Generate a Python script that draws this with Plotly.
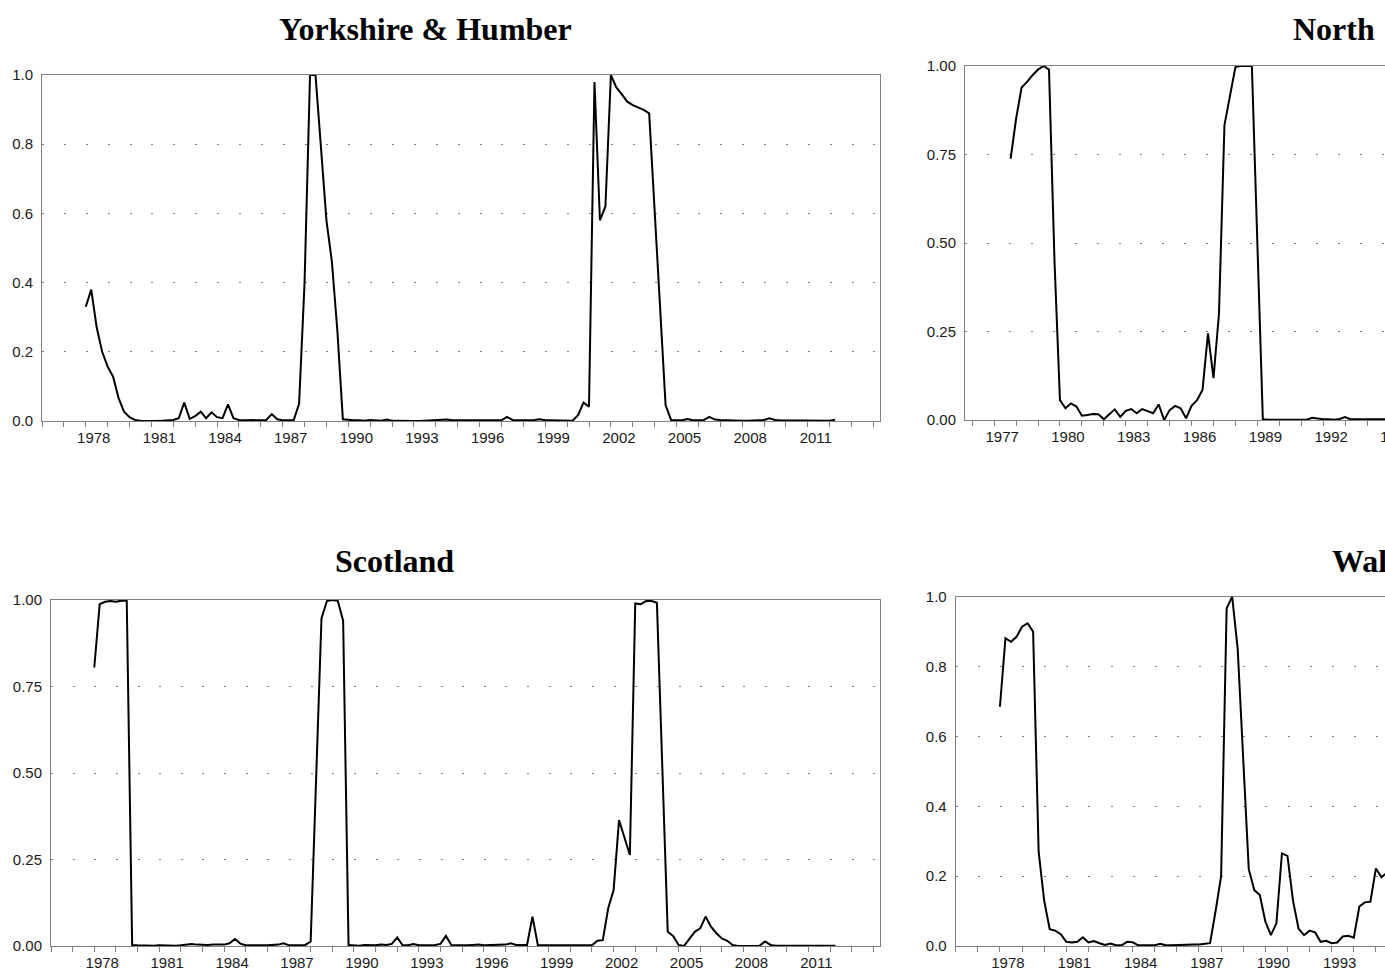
import plotly.graph_objects as go

W, H = 1385, 974

# ---------------- data (quarterly) ----------------
yorkshire_start = (1978, 1)
yorkshire = [
    0.33, 0.38, 0.27, 0.20,
    0.157, 0.128, 0.066, 0.027,
    0.011, 0.003, 0.001, 0.000,
    0.000, 0.000, 0.001, 0.002,
    0.003, 0.008, 0.053, 0.006,
    0.014, 0.027, 0.008, 0.025,
    0.011, 0.008, 0.048, 0.008,
    0.003, 0.002, 0.002, 0.001,
    0.002, 0.003, 0.020, 0.005,
    0.002, 0.002, 0.002, 0.050,
    0.40, 1.00, 1.00, 0.79,
    0.58, 0.46, 0.26, 0.005,
    0.003, 0.002, 0.002, 0.001,
    0.003, 0.002, 0.001, 0.004,
    0.001, 0.001, 0.000, 0.000,
    0.000, 0.000, 0.001, 0.001,
    0.001, 0.002, 0.004, 0.002,
    0.002, 0.002, 0.002, 0.002,
    0.002, 0.003, 0.004, 0.002,
    0.002, 0.012, 0.003, 0.002,
    0.002, 0.001, 0.003, 0.005,
    0.002, 0.002, 0.002, 0.003,
    0.003, 0.001, 0.017, 0.053,
    0.041, 0.98, 0.58, 0.62,
    1.00, 0.964, 0.944, 0.923,
    0.913, 0.907, 0.899, 0.889,
    0.61, 0.33, 0.046, 0.003,
    0.002, 0.002, 0.006, 0.002,
    0.002, 0.003, 0.012, 0.004,
    0.003, 0.002, 0.002, 0.001,
    0.001, 0.001, 0.001, 0.002,
    0.003, 0.008, 0.003, 0.002,
    0.002, 0.002, 0.002, 0.001,
    0.002, 0.001, 0.002, 0.001,
    0.001, 0.004,
]

north_start = (1977, 4)
north = [
    0.738,
    0.851, 0.939, 0.955, 0.974,
    0.990, 1.000, 0.990, 0.45,
    0.056, 0.033, 0.047, 0.038,
    0.012, 0.014, 0.017, 0.016,
    0.002, 0.016, 0.030, 0.009,
    0.026, 0.031, 0.019, 0.031,
    0.024, 0.019, 0.044, 0.000,
    0.028, 0.040, 0.033, 0.005,
    0.040, 0.056, 0.085, 0.245,
    0.118, 0.300, 0.833, 0.913,
    0.997, 1.000, 1.000, 1.000,
    0.50, 0.002, 0.001, 0.001,
    0.001, 0.001, 0.002, 0.002,
    0.002, 0.001, 0.006, 0.003,
    0.002, 0.002, 0.001, 0.003,
    0.008, 0.002, 0.002, 0.001,
    0.002, 0.002, 0.001, 0.002,
    0.002,
]

scotland_start = (1978, 1)
scotland = [
    0.805, 0.988, 0.995, 0.997,
    0.995, 0.998, 0.998, 0.003,
    0.002, 0.001, 0.002, 0.001,
    0.002, 0.001, 0.002, 0.001,
    0.002, 0.004, 0.006, 0.004,
    0.003, 0.003, 0.004, 0.003,
    0.004, 0.008, 0.020, 0.007,
    0.002, 0.002, 0.003, 0.002,
    0.002, 0.003, 0.004, 0.008,
    0.002, 0.002, 0.002, 0.003,
    0.013, 0.45, 0.947, 0.997,
    1.000, 0.998, 0.940, 0.003,
    0.002, 0.001, 0.003, 0.002,
    0.002, 0.004, 0.003, 0.006,
    0.025, 0.002, 0.002, 0.006,
    0.002, 0.002, 0.002, 0.003,
    0.006, 0.029, 0.003, 0.002,
    0.002, 0.002, 0.003, 0.004,
    0.002, 0.002, 0.002, 0.002,
    0.004, 0.008, 0.003, 0.003,
    0.003, 0.085, 0.002, 0.002,
    0.002, 0.002, 0.003, 0.004,
    0.002, 0.003, 0.002, 0.002,
    0.002, 0.015, 0.017, 0.109,
    0.162, 0.364, 0.316, 0.263,
    0.990, 0.988, 0.997, 0.997,
    0.992, 0.54, 0.041, 0.029,
    0.003, 0.000, 0.022, 0.041,
    0.051, 0.085, 0.056, 0.037,
    0.022, 0.015, 0.003, 0.000,
    0.000, 0.000, 0.000, 0.001,
    0.013, 0.003, 0.001, 0.002,
    0.001, 0.001, 0.001, 0.001,
    0.001, 0.001, 0.001, 0.001,
    0.001, 0.001,
]

wales_start = (1978, 1)
wales = [
    0.685, 0.881, 0.871, 0.885,
    0.914, 0.924, 0.900, 0.27,
    0.13, 0.048, 0.044, 0.034,
    0.012, 0.010, 0.012, 0.025,
    0.010, 0.014, 0.008, 0.003,
    0.007, 0.002, 0.002, 0.012,
    0.011, 0.002, 0.002, 0.002,
    0.002, 0.006, 0.002, 0.002,
    0.003, 0.004, 0.004, 0.004,
    0.004, 0.005, 0.008, 0.100,
    0.200, 0.967, 1.000, 0.850,
    0.55, 0.22, 0.16, 0.146,
    0.070, 0.031, 0.065, 0.265,
    0.258, 0.130, 0.050, 0.031,
    0.044, 0.039, 0.012, 0.015,
    0.008, 0.010, 0.027, 0.029,
    0.024, 0.113, 0.125, 0.127,
    0.222, 0.197, 0.21,
]

titles = ["Yorkshire & Humber", "North", "Scotland", "Wales"]
yorkshire_labels = [1978, 1981, 1984, 1987, 1990, 1993, 1996, 1999, 2002, 2005, 2008, 2011]
north_labels = [1977, 1980, 1983, 1986, 1989, 1992, 1995]
scotland_labels = [1978, 1981, 1984, 1987, 1990, 1993, 1996, 1999, 2002, 2005, 2008, 2011]
wales_labels = [1978, 1981, 1984, 1987, 1990, 1993]

# ---------------- panel geometry (pixels) ----------------
panels = [
    dict(start=yorkshire_start, vals=yorkshire, labels=yorkshire_labels,
         box=(42, 75, 880, 421), xr=(1976.0, 2014.3), ydtick=0.2, yfmt=".1f", mirror=True,
         title=titles[0], tx=425.5, ty=28.5),
    dict(start=north_start, vals=north, labels=north_labels,
         box=(965, 66, W, 420), xr=(1975.67, 1994.82), ydtick=0.25, yfmt=".2f", mirror=False,
         title=titles[1], tx=1334, ty=28.5),
    dict(start=scotland_start, vals=scotland, labels=scotland_labels,
         box=(51, 600, 880, 946), xr=(1976.0, 2014.31), ydtick=0.25, yfmt=".2f", mirror=True,
         title=titles[2], tx=394.5, ty=560.5),
    dict(start=wales_start, vals=wales, labels=wales_labels,
         box=(955.7, 596.7, W, 946), xr=(1976.0, 1995.41), ydtick=0.2, yfmt=".1f", mirror=False,
         title=titles[3], tx=1372.5, ty=560.5),
]

AXIS_COLOR = "#808080"
TICK_FONT = dict(family="Liberation Sans, Arial, sans-serif", size=15, color="#1a1a1a")
TITLE_FONT = dict(family="Liberation Serif, Times New Roman, serif", size=32, color="#000000")
LABEL_SHIFT = 8

fig = go.Figure()
layout = dict(
    width=W, height=H, autosize=False,
    margin=dict(l=0, r=0, t=0, b=0, pad=0, autoexpand=False),
    paper_bgcolor="white", plot_bgcolor="white",
    showlegend=False,
    annotations=[],
)

for i, p in enumerate(panels, start=1):
    y0q, q0 = p["start"]
    xs = [y0q + (q0 - 1) / 4 + k / 4 for k in range(len(p["vals"]))]
    xa = "x" if i == 1 else f"x{i}"
    ya = "y" if i == 1 else f"y{i}"
    fig.add_trace(go.Scatter(x=xs, y=p["vals"], mode="lines",
                             line=dict(color="black", width=2),
                             xaxis=xa, yaxis=ya, hoverinfo="skip"))
    x0, t0, x1, b0 = p["box"]
    r0, r1 = p["xr"]
    ppy = (x1 - x0) / (r1 - r0)
    years = list(range(int(r0) + (0 if r0 == int(r0) else 1), int(r1) + 1))
    ticktext = [str(y) if y in p["labels"] else "" for y in years]
    xkey = "xaxis" if i == 1 else f"xaxis{i}"
    ykey = "yaxis" if i == 1 else f"yaxis{i}"
    layout[xkey] = dict(
        domain=[x0 / W, x1 / W], anchor=ya, range=[r0, r1], automargin=False,
        tickmode="array", tickvals=years, ticktext=ticktext,
        ticks="outside", ticklen=5, tickwidth=1, tickcolor=AXIS_COLOR,
        ticklabelshift=LABEL_SHIFT, ticklabelstandoff=-2,
        showline=True, linecolor=AXIS_COLOR, linewidth=1, mirror=True,
        showgrid=False, zeroline=False, tickfont=TICK_FONT, fixedrange=True,
        layer="below traces",
    )
    layout[ykey] = dict(
        domain=[1 - b0 / H, 1 - t0 / H], anchor=xa, range=[0, 1], automargin=False,
        tickmode="linear", tick0=0, dtick=p["ydtick"], tickformat=p["yfmt"],
        ticks="", ticklabelstandoff=5,
        showline=True, linecolor=AXIS_COLOR, linewidth=1, mirror=p["mirror"],
        showgrid=True, gridcolor="#808080", gridwidth=1,
        griddash=f"2px,{ppy - 2:.2f}px",
        zeroline=False, tickfont=TICK_FONT, fixedrange=True,
        layer="below traces",
    )
    layout["annotations"].append(dict(
        text="<b>" + p["title"].replace("&", "&amp;") + "</b>",
        xref="paper", yref="paper", x=p["tx"] / W, y=1 - p["ty"] / H,
        xanchor="center", yanchor="middle", showarrow=False, font=TITLE_FONT,
    ))
    # label of a year tick that lies just past the cut right edge
    for y in p["labels"]:
        if y > r1:
            px = x0 + (y - r0) * ppy + LABEL_SHIFT
            layout["annotations"].append(dict(
                text=str(y), xref="paper", yref="paper", x=px / W, y=1 - (b0 + 16) / H,
                xanchor="center", yanchor="middle", showarrow=False, font=TICK_FONT,
            ))

fig.update_layout(layout)
fig.write_html("out.html",
               config={"displayModeBar": False},
               post_script="document.body.style.margin='0px';"
                           "document.body.style.overflow='hidden';")
